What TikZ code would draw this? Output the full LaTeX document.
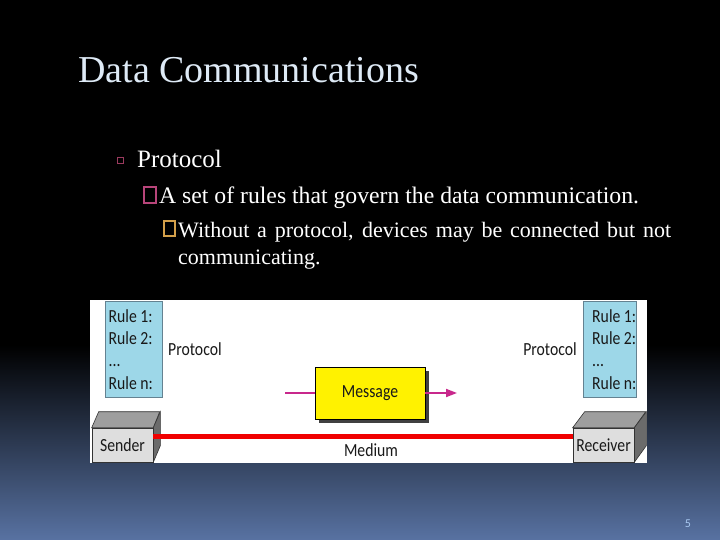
\documentclass[tikz,border=0pt]{standalone}
\usepackage{fontspec}
\setmainfont{Liberation Serif}
\newfontfamily\diagfont[FakeStretch=0.85]{Carlito}
\newfontfamily\pagefont{Carlito}
\usetikzlibrary{arrows.meta,shadows}
\definecolor{bgbot}{RGB}{88,114,162}
\definecolor{titlec}{RGB}{222,234,246}
\definecolor{rulebox}{RGB}{157,215,232}
\definecolor{ruleedge}{RGB}{100,130,145}
\definecolor{magarrow}{RGB}{200,40,140}
\definecolor{medred}{RGB}{240,0,0}
\definecolor{bulA}{RGB}{155,58,94}
\definecolor{bulB}{RGB}{184,69,122}
\definecolor{bulC}{RGB}{212,160,74}
\definecolor{pagec}{RGB}{168,200,240}
\begin{document}
\begin{tikzpicture}[x=1pt,y=-1pt,
  txt/.style={anchor=base west,inner sep=0,text=white},
  dfont/.style={font=\diagfont\fontsize{18.5}{20}\selectfont},
  dtext/.style={inner sep=0,text=black!90,dfont},
  ruletext/.style={dtext,anchor=base west},
  rulebx/.style={draw=ruleedge,line width=0.8pt,fill=rulebox},
  frontface/.style={draw=black!80,line width=0.6pt,fill=black!13,minimum width=61pt,minimum height=34pt,inner sep=0,text=black!90,dfont},
  topface/.style={draw=black!80,line width=0.6pt,fill=black!38},
  sideface/.style={draw=black!80,line width=0.6pt,fill=black!58},
  msgbox/.style={draw=black,line width=0.8pt,fill=yellow,minimum width=110pt,minimum height=52pt,inner sep=0,text=black!90,dfont,
     drop shadow={shadow xshift=3.5pt,shadow yshift=-3.5pt,fill=black!75,opacity=1}},
  msgline/.style={draw=magarrow,line width=1.8pt},
  medline/.style={draw=medred,line width=5pt}
]
\useasboundingbox (0,0) rectangle (720,540);
\fill[black] (0,0) rectangle (720,540);
\shade[top color=black,bottom color=bgbot] (0,345) rectangle (720,540);

% title and text
\node[txt,text=titlec,font=\fontsize{38}{40}\selectfont] (title) at (78,83) {Data Communications};
\draw[bulA,line width=0.9pt] (117,157) rectangle (123,163);
\node[txt,font=\fontsize{25}{28}\selectfont] (l1) at (137,168) {Protocol};
\draw[bulB,line width=1.5pt] (144,187) rectangle (156,203);
\node[txt,font=\fontsize{23.7}{26}\selectfont] (l2) at (159,204) {A set of rules that govern the data communication.};
\draw[bulC,line width=1.4pt] (164,221) rectangle (175,236);
\node[txt,font=\fontsize{22}{24}\selectfont] (l3) at (178,237) {\makebox[493pt][s]{Without a protocol, devices may be connected but not}};
\node[txt,font=\fontsize{22}{24}\selectfont] (l3b) at (178,264) {communicating.};

% diagram panel
\fill[white] (90,300) rectangle (647,463);

% protocol rule boxes
\draw[rulebx] (105,301) rectangle (162,397);
\draw[rulebx] (583,301) rectangle (636,397);
\foreach \bx/\nm in {108.5/L,592/R}{
  \node[ruletext] (r1\nm) at (\bx,322) {Rule 1:};
  \node[ruletext] (r2\nm) at (\bx,344) {Rule 2:};
  \node[ruletext] (r3\nm) at (\bx,366) {...};
  \node[ruletext] (r4\nm) at (\bx,389) {Rule n:};
}
\node[dtext,anchor=west] (protoL) at (168,349) {Protocol};
\node[dtext,anchor=east] (protoR) at (577,349) {Protocol};

% sender
\node[frontface] (sender) at (122.5,445) {Sender};
\draw[topface] (sender.north west) -- ++(7,-16) -- ++(61,0) -- (sender.north east) -- cycle;
\draw[sideface] (sender.north east) -- ++(7,-16) -- ++(0,34) -- (sender.south east) -- cycle;
\node[frontface] (sender) at (122.5,445) {Sender};

% receiver
\node[frontface] (receiver) at (603.5,445) {Receiver};
\draw[topface] (receiver.north west) -- ++(12,-16) -- ++(61,0) -- (receiver.north east) -- cycle;
\draw[sideface] (receiver.north east) -- ++(12,-16) -- ++(0,34) -- (receiver.south east) -- cycle;
\node[frontface] (receiver) at (603.5,445) {Receiver};

% medium
\draw[medline] ([yshift=9pt]sender.east) -- ([yshift=9pt]receiver.west);
\node[dtext] (medium) at (371,450) {Medium};

% message
\node[msgbox] (msg) at (370,393) {Message};
\coordinate (inL) at (285,393);
\coordinate (outR) at (457,393);
\draw[msgline] (inL) -- (msg.west);
\draw[msgline,-{Triangle[length=11pt,width=8pt]}] (msg.east) -- (outR);

% page number
\node[inner sep=0,text=pagec,font=\pagefont\fontsize{12}{13}\selectfont] (page) at (688,524) {5};
\end{tikzpicture}
\end{document}
